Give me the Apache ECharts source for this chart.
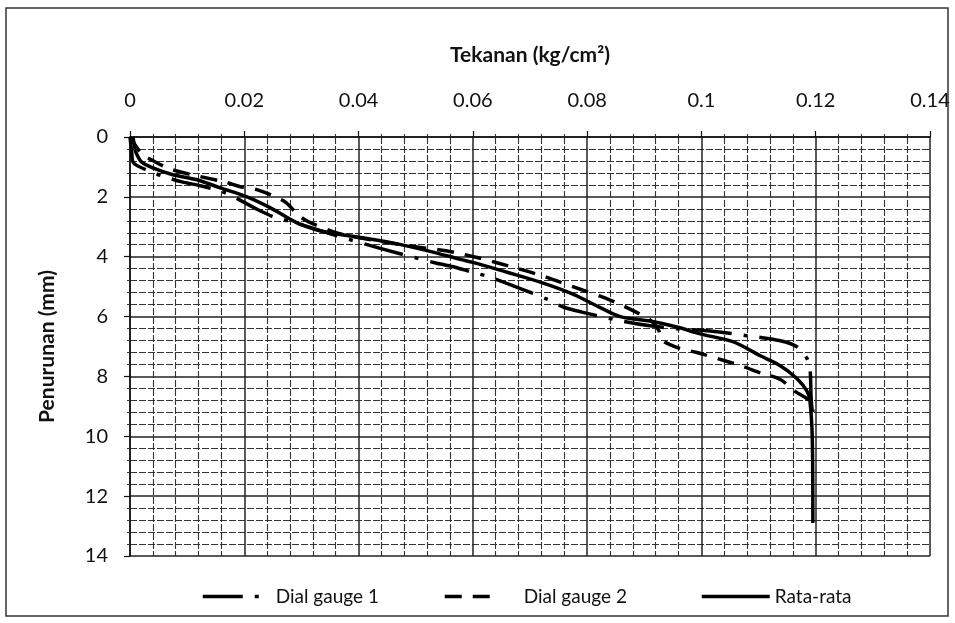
<!DOCTYPE html>
<html>
<head>
<meta charset="utf-8">
<script src="https://cdn.jsdelivr.net/npm/echarts@6/dist/echarts.min.js"></script>
<style>
html,body{margin:0;padding:0;background:#fff;}
#chart{width:955px;height:623px;}
</style>
</head>
<body>
<div id="chart"></div>
<script>
// Tick labels / axis settings
var xTicks = [0, 0.02, 0.04, 0.06, 0.08, 0.1, 0.12, 0.14];
var yTicks = [0, 2, 4, 6, 8, 10, 12, 14];
var seriesNames = ['Dial gauge 1', 'Dial gauge 2', 'Rata-rata'];

// Dial gauge 1: [tekanan (kg/cm2), penurunan (mm)]
var dialGauge1 = [
  [0, 0], [0.0003, 0.5], [0.0006, 0.86], [0.0035, 1.15], [0.0061, 1.33], [0.0091, 1.5],
  [0.0123, 1.63], [0.0166, 1.86], [0.0224, 2.43], [0.0254, 2.69], [0.0285, 2.84],
  [0.0355, 3.26], [0.0438, 3.72], [0.0537, 4.22], [0.0569, 4.35], [0.0599, 4.52],
  [0.063, 4.68], [0.073, 5.42], [0.0758, 5.68], [0.0791, 5.85], [0.0861, 6.15],
  [0.091, 6.31], [0.0957, 6.41], [0.1015, 6.48], [0.108, 6.64], [0.1138, 6.81],
  [0.1167, 7.01], [0.1185, 7.41], [0.119, 7.74], [0.1192, 8.74], [0.1194, 9.2]
];

// Dial gauge 2
var dialGauge2 = [
  [0, 0], [0.002, 0.55], [0.0038, 0.77], [0.0075, 1.1], [0.0165, 1.5], [0.0193, 1.66],
  [0.0222, 1.76], [0.0271, 2.16], [0.0294, 2.6], [0.0311, 2.82], [0.0355, 3.16],
  [0.0388, 3.32], [0.0495, 3.66], [0.0553, 3.8], [0.0613, 4.05], [0.0642, 4.2],
  [0.0698, 4.5], [0.0728, 4.68], [0.0753, 4.85], [0.0793, 5.12], [0.0823, 5.32],
  [0.0849, 5.52], [0.0875, 5.75], [0.091, 6.11], [0.0925, 6.45], [0.0932, 6.8],
  [0.0963, 7.07], [0.0992, 7.2], [0.1045, 7.5], [0.1073, 7.67], [0.1103, 7.88],
  [0.1138, 8.1], [0.1164, 8.5], [0.1185, 8.75], [0.1194, 8.95], [0.1195, 9.2]
];

// Rata-rata
var rataRata = [
  [0.0005, 0], [0.0008, 0.3], [0.001, 0.5], [0.002, 0.83], [0.004, 1.03], [0.0075, 1.26],
  [0.0117, 1.43], [0.0158, 1.7], [0.0205, 2.0], [0.0245, 2.36], [0.0275, 2.69],
  [0.0298, 2.92], [0.0338, 3.16], [0.0403, 3.36], [0.0455, 3.52], [0.0525, 3.82],
  [0.0578, 4.09], [0.06, 4.19], [0.066, 4.52], [0.0718, 4.85], [0.0775, 5.25],
  [0.0823, 5.7], [0.0858, 6.0], [0.091, 6.15], [0.0957, 6.35], [0.0998, 6.58],
  [0.1055, 6.84], [0.1103, 7.31], [0.1138, 7.64], [0.1167, 8.07], [0.1185, 8.5],
  [0.119, 8.84], [0.1194, 10.07], [0.1195, 12.9]
];

var FONT = 'Lato';
var chart = echarts.init(document.getElementById('chart'), null, {renderer: 'canvas'});

function mkLegend(name, left, w, pad) {
  return {
    data: [name], left: left, top: 582, itemWidth: w, itemHeight: 14,
    itemStyle: {opacity: 0},
    lineStyle: {width: 3.5},
    textStyle: {fontFamily: FONT, fontSize: 19, color: '#111', padding: [0, 0, 0, pad]}
  };
}

var option = {
  backgroundColor: '#fff',
  animation: false,
  graphic: [{
    type: 'rect', shape: {x: 6, y: 8, width: 942, height: 608},
    style: {fill: 'none', stroke: '#333', lineWidth: 1.5}, silent: true
  }],
  legend: [
    mkLegend(seriesNames[0], 196, 56, 12),
    mkLegend(seriesNames[1], 438, 56, 18),
    mkLegend(seriesNames[2], 695, 68, 0)
  ],
  grid: {left: 130, top: 137, width: 800, height: 419, containLabel: false},
  xAxis: {
    type: 'value', position: 'top', min: xTicks[0], max: xTicks[xTicks.length - 1], interval: 0.02,
    name: 'Tekanan (kg/cm²)', nameLocation: 'middle', nameGap: 71,
    nameTextStyle: {fontFamily: FONT, fontSize: 21, fontWeight: 'bold', color: '#111'},
    axisLine: {show: true, lineStyle: {color: '#111', width: 1.5}},
    axisTick: {show: true, length: 6, lineStyle: {color: '#111', width: 1.2}},
    minorTick: {show: true, splitNumber: 5, length: 3, lineStyle: {color: '#333'}},
    axisLabel: {margin: 26, fontFamily: FONT, fontSize: 20, color: '#111',
      formatter: function (v) { return String(parseFloat(v.toFixed(2))); }},
    splitLine: {show: true, lineStyle: {color: '#222', width: 1.5}},
    minorSplitLine: {show: true, lineStyle: {color: '#333', width: 1.1, type: [7, 2]}}
  },
  yAxis: {
    type: 'value', inverse: true, min: yTicks[0], max: yTicks[yTicks.length - 1], interval: 2,
    name: 'Penurunan (mm)', nameLocation: 'middle', nameGap: 72, nameRotate: 90,
    nameTextStyle: {fontFamily: FONT, fontSize: 21, fontWeight: 'bold', color: '#111'},
    axisLine: {show: true, lineStyle: {color: '#111', width: 1.5}},
    axisTick: {show: true, length: 6, lineStyle: {color: '#111', width: 1.2}},
    minorTick: {show: true, splitNumber: 5, length: 3, lineStyle: {color: '#333'}},
    axisLabel: {margin: 22, fontFamily: FONT, fontSize: 20, color: '#111'},
    splitLine: {show: true, lineStyle: {color: '#222', width: 1.5}},
    minorSplitLine: {show: true, lineStyle: {color: '#333', width: 1.1, type: [7, 2]}}
  },
  series: [
    {
      name: seriesNames[0], type: 'line', data: dialGauge1, smooth: 0.3, symbol: 'none',
      color: '#000', lineStyle: {color: '#000', width: 3.5, type: [40, 12, 4, 12], cap: 'butt'}, z: 3
    },
    {
      name: seriesNames[1], type: 'line', data: dialGauge2, smooth: 0.3, symbol: 'none',
      color: '#000', lineStyle: {color: '#000', width: 3.5, type: [17, 11], cap: 'butt'}, z: 3
    },
    {
      name: seriesNames[2], type: 'line', data: rataRata, smooth: 0.3, symbol: 'none',
      color: '#000', lineStyle: {color: '#000', width: 3.5, type: 'solid'}, z: 4
    }
  ]
};
chart.setOption(option);
</script>
</body>
</html>
